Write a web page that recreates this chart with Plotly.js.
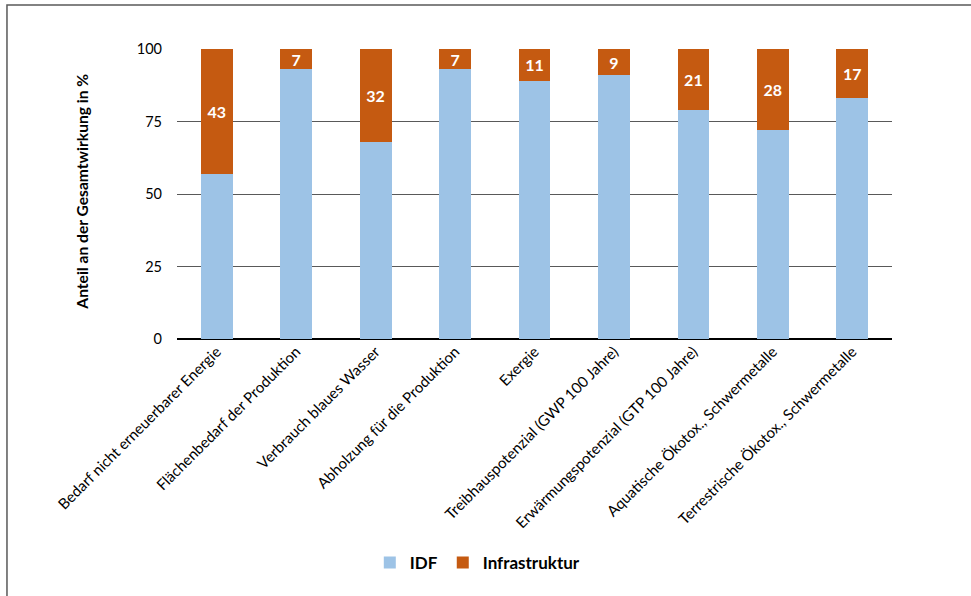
<!DOCTYPE html>
<html><head><meta charset="utf-8">
<script src="https://cdn.plot.ly/plotly-3.0.1.min.js"></script>
<style>body{margin:0;background:#fff}#c{width:971px;height:596px}</style>
</head><body><div id="c"></div>
<script>
const categories = ["Bedarf nicht erneuerbarer Energie","Flächenbedarf der Produktion","Verbrauch blaues Wasser","Abholzung für die Produktion","Exergie","Treibhauspotenzial (GWP 100 Jahre)","Erwärmungspotenzial (GTP 100 Jahre)","Aquatische Ökotox., Schwermetalle","Terrestrische Ökotox., Schwermetalle"];
const idf = [57, 93, 68, 93, 89, 91, 79, 72, 83];
const infra = [43, 7, 32, 7, 11, 9, 21, 28, 17];
const yTicks = [0, 25, 50, 75, 100];
const yTitle = 'Anteil an der Gesamtwirkung in %';

const font = "Lato, 'Open Sans', sans-serif";
const traces = [
  {type:'bar', name:'IDF', x:categories, y:idf, marker:{color:'#9DC3E6'}, width:0.4, hoverinfo:'y'},
  {type:'bar', name:'Infrastruktur', x:categories, y:infra, marker:{color:'#C55A11'}, width:0.4,
   text:infra.map(String), textposition:'inside', insidetextanchor:'middle', constraintext:'none', textangle:0,
   textfont:{color:'#fff', size:16, family:font, weight:'bold'}, hoverinfo:'y'}
];
const layout = {
  width:971, height:596, barmode:'stack',
  margin:{l:177, r:79, t:49, b:257},
  paper_bgcolor:'#fff', plot_bgcolor:'#fff',
  font:{family:font, size:14, color:'#000'},
  xaxis:{tickangle:-45, showgrid:false, zeroline:false, showline:false, ticks:'', tickfont:{size:15}, automargin:false},
  yaxis:{range:[0,100], tickvals:yTicks, ticktext:yTicks.map(String), showgrid:true, gridcolor:'#595959', gridwidth:1,
         zeroline:true, zerolinecolor:'#000', zerolinewidth:1.5, showline:false, ticks:'', ticklen:0,
         ticklabelstandoff:14, tickfont:{size:14.5}, automargin:false},
  annotations:[{text:yTitle, xref:'paper', yref:'paper', x:-0.1333, y:0.507, xanchor:'center', yanchor:'middle',
                textangle:-90, showarrow:false, font:{size:15.6, weight:'bold', family:font}}],
  legend:{orientation:'h', x:0.42, xanchor:'center', y:-0.772, yanchor:'middle', font:{size:17, weight:'bold'}, traceorder:'normal', itemwidth:30},
  showlegend:true,
  shapes:[{type:'rect', xref:'paper', yref:'paper', x0:-0.2378, x1:1.3, y0:-1.0, y1:1.1517, line:{color:'#595959', width:1.5}, fillcolor:'rgba(0,0,0,0)', layer:'below'}]
};
Plotly.newPlot('c', traces, layout, {displayModeBar:false, staticPlot:true});
</script></body></html>
